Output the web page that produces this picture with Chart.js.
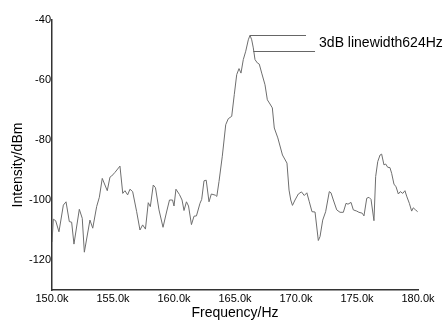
<!DOCTYPE html>
<html>
<head>
<meta charset="utf-8">
<script src="https://cdn.jsdelivr.net/npm/chart.js@4/dist/chart.umd.min.js"></script>
<style>
html,body{margin:0;padding:0;background:#fff;}
canvas{display:block;}
</style>
</head>
<body>
<canvas id="c" width="445" height="322"></canvas>
<script>
// Frequency (kHz) and intensity (dBm)
const freqKHz = [
150.00,150.11,150.30,150.57,150.93,151.15,151.42,151.61,151.80,152.24,
152.48,152.65,153.11,153.34,153.66,153.88,154.12,154.34,154.53,154.75,
154.89,155.16,155.57,155.80,155.98,156.20,156.39,156.61,156.94,157.21,
157.43,157.66,157.89,158.06,158.30,158.48,158.77,159.10,159.39,159.63,
159.88,160.00,160.16,160.45,160.66,160.82,161.02,161.19,161.43,161.64,
161.84,162.13,162.27,162.46,162.64,162.87,163.06,163.39,163.51,163.69,
163.96,164.24,164.45,164.73,164.94,165.14,165.33,165.49,165.68,165.88,
166.09,166.23,166.37,166.50,166.64,166.83,166.99,167.19,167.46,167.65,
167.87,168.06,168.22,168.51,168.89,169.26,169.43,169.57,169.71,169.92,
170.19,170.45,170.68,170.89,171.09,171.31,171.56,171.83,171.97,172.19,
172.43,172.73,172.87,173.06,173.34,173.61,173.88,174.10,174.26,174.51,
174.70,174.98,175.16,175.43,175.57,175.80,175.98,176.15,176.39,176.53,
176.70,176.89,177.02,177.21,177.35,177.52,177.70,177.84,178.03,178.20,
178.39,178.55,178.75,178.93,179.07,179.29,179.48,179.61,179.80,179.97
];
const intensityDBm = [
-114.0,-106.4,-106.9,-110.6,-101.7,-100.6,-107.2,-107.4,-114.7,-103.1,
-106.1,-117.4,-106.7,-109.4,-102.2,-99.1,-92.8,-95.0,-96.9,-92.4,
-92.0,-90.8,-88.7,-97.8,-96.9,-98.3,-96.4,-97.2,-103.9,-110.0,
-108.3,-109.7,-100.9,-102.2,-95.0,-95.9,-103.3,-109.1,-104.0,-100.0,
-100.0,-102.0,-96.4,-98.2,-100.0,-103.5,-100.6,-102.0,-108.2,-105.4,
-105.3,-101.1,-99.8,-93.6,-93.4,-100.6,-98.0,-98.4,-98.8,-93.8,
-85.4,-74.9,-72.9,-72.1,-64.9,-58.2,-56.2,-57.7,-53.2,-50.4,
-46.6,-45.1,-46.6,-49.3,-53.2,-54.3,-54.7,-57.7,-61.6,-66.6,
-68.0,-69.3,-76.0,-79.3,-85.0,-87.7,-96.7,-100.0,-101.8,-100.0,
-98.0,-97.3,-98.5,-97.6,-100.6,-103.9,-104.0,-113.5,-112.2,-106.7,
-103.9,-97.2,-97.6,-100.0,-103.3,-104.1,-104.1,-101.1,-101.4,-100.8,
-103.3,-103.7,-104.1,-104.4,-105.3,-99.4,-99.1,-99.8,-106.9,-92.2,
-87.2,-85.0,-84.7,-88.3,-88.0,-89.1,-89.2,-91.1,-94.7,-95.6,
-98.0,-97.2,-97.8,-96.9,-98.7,-101.1,-103.7,-102.6,-103.3,-103.9
];
const yTicks = [-120, -100, -80, -60, -40];
const xTicks = [150, 155, 160, 165, 170, 175, 180];

// annotation (data units): peak marker line, half-level line, label
const peakLineFreq = [166.23, 170.82];
const peakLineLevel = -45.1;
const halfLineFreq = [166.50, 171.56];
const halfLineLevel = -50.2;
const labelText = '3dB linewidth624Hz';
const labelFreq = 171.89;
const labelLevel = -47.7;

const FONT = "'Liberation Sans', Arial, sans-serif";

const points = freqKHz.map((f, i) => ({x: f, y: intensityDBm[i]}));

const annotPlugin = {
  id: 'annot',
  afterDatasetsDraw(chart) {
    const ctx = chart.ctx, xs = chart.scales.x, ys = chart.scales.y;
    ctx.save();
    ctx.strokeStyle = '#666';
    ctx.lineWidth = 1;
    ctx.beginPath();
    let yy = Math.round(ys.getPixelForValue(peakLineLevel)) + 0.5;
    ctx.moveTo(xs.getPixelForValue(peakLineFreq[0]), yy);
    ctx.lineTo(xs.getPixelForValue(peakLineFreq[1]), yy);
    yy = Math.round(ys.getPixelForValue(halfLineLevel)) + 0.5;
    ctx.moveTo(xs.getPixelForValue(halfLineFreq[0]), yy);
    ctx.lineTo(xs.getPixelForValue(halfLineFreq[1]), yy);
    ctx.stroke();
    ctx.fillStyle = '#000';
    ctx.font = '14px ' + FONT;
    ctx.textAlign = 'left';
    ctx.textBaseline = 'middle';
    ctx.fillText(labelText, xs.getPixelForValue(labelFreq), ys.getPixelForValue(labelLevel));
    // y axis title
    ctx.translate(18.5, 165);
    ctx.rotate(-Math.PI / 2);
    ctx.textAlign = 'center';
    ctx.fillText('Intensity/dBm', 0, 0);
    ctx.restore();
  }
};

new Chart(document.getElementById('c'), {
  type: 'line',
  data: {
    datasets: [{
      data: points,
      borderColor: '#6e6e6e',
      borderWidth: 1,
      pointRadius: 0,
      tension: 0,
      fill: false
    }]
  },
  options: {
    responsive: false,
    animation: false,
    events: [],
    layout: {padding: {top: 20, right: 27, left: 0, bottom: 0}},
    plugins: {legend: {display: false}, tooltip: {enabled: false}},
    scales: {
      x: {
        type: 'linear',
        min: 150, max: 180,
        afterFit(s) { s.height = 32; },
        afterBuildTicks(s) { s.ticks = xTicks.map(v => ({value: v})); },
        grid: {display: false, drawTicks: false},
        border: {display: true, color: '#333', width: 1.5},
        ticks: {
          autoSkip: false, maxRotation: 0, padding: 2,
          color: '#000', font: {family: FONT, size: 11},
          callback: v => v.toFixed(1) + 'k'
        },
        title: {display: true, text: 'Frequency/Hz', color: '#000',
                font: {family: FONT, size: 14}, padding: {top: 0, bottom: 0}}
      },
      y: {
        type: 'linear',
        min: -130, max: -40,
        afterFit(s) { s.width = 52; },
        afterBuildTicks(s) { s.ticks = yTicks.map(v => ({value: v})); },
        grid: {display: false, drawTicks: false},
        border: {display: true, color: '#333', width: 1.5},
        ticks: {
          autoSkip: false, padding: 1,
          color: '#000', font: {family: FONT, size: 11},
          callback: v => String(v)
        },
        title: {display: false}
      }
    }
  },
  plugins: [annotPlugin]
});
</script>
</body>
</html>
